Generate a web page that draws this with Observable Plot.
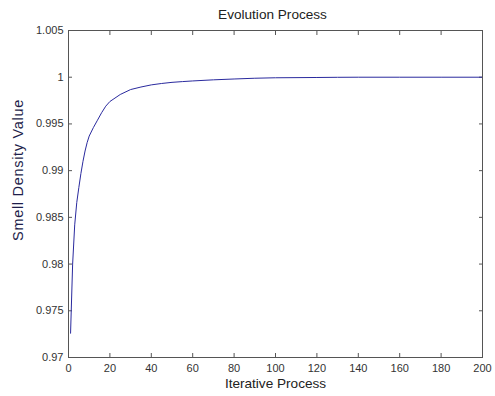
<!DOCTYPE html>
<html>
<head>
<meta charset="utf-8">
<script src="https://cdn.jsdelivr.net/npm/d3@7"></script>
<script src="https://cdn.jsdelivr.net/npm/@observablehq/plot@0.6"></script>
<style>
  html, body { margin: 0; padding: 0; background: #fff; }
  svg { display: block; }
</style>
</head>
<body>
<div id="chart"></div>
<script>
const iterations = [1,2,3,4,5,6,7,8,9,10,12,14,16,18,20,25,30,35,40,45,50,55,60,70,80,90,100,120,130,140,160,180,200];
const smell = [0.9726,0.9800,0.9842,0.9866,0.9882,0.9897,0.9910,0.9921,0.9930,0.9937,0.9946,0.9954,0.9962,0.9969,0.9974,0.99815,0.99868,0.99895,0.99918,0.99933,0.99945,0.99953,0.9996,0.99972,0.99981,0.99989,0.99994,0.99997,0.99999,1.0,1.0,1.0,1.0];
const xTicks = [0,20,40,60,80,100,120,140,160,180,200];
const yTicks = [0.97,0.975,0.98,0.985,0.99,0.995,1,1.005];
const titleText = "Evolution Process";
const xLabel = "Iterative Process";
const yLabel = "Smell Density Value";

const data = iterations.map((x, i) => ({x, y: smell[i]}));
const fmt = d => String(+d.toFixed(3));
const axisColor = "#555";
const font = "Liberation Sans, Arial, sans-serif";

const chart = Plot.plot({
  width: 495,
  height: 396,
  marginLeft: 68,
  marginRight: 13,
  marginTop: 30,
  marginBottom: 39,
  style: {fontFamily: font, fontSize: "11px", color: "#333", background: "#fff"},
  x: {domain: [0, 200]},
  y: {domain: [0.97, 1.005]},
  marks: [
    Plot.axisX({ticks: xTicks, tickSize: -4, tickPadding: 11, tickFormat: fmt, stroke: axisColor, fill: "#333", label: null}),
    Plot.axisX({anchor: "top", ticks: xTicks, tickSize: -4, tickFormat: () => "", stroke: axisColor, label: null}),
    Plot.axisY({ticks: yTicks, tickSize: -4, tickPadding: 9, tickFormat: fmt, stroke: axisColor, fill: "#333", label: null}),
    Plot.axisY({anchor: "right", ticks: yTicks, tickSize: -4, tickFormat: () => "", stroke: axisColor, label: null}),
    Plot.line(data, {x: "x", y: "y", stroke: "#2a2a9e", strokeWidth: 1}),
    Plot.frame({stroke: axisColor, strokeWidth: 1}),
    Plot.text([titleText], {frameAnchor: "top", dx: -3, dy: -16, text: d => d, fontSize: 13.6, fill: "#222", lineAnchor: "middle", textAnchor: "middle"}),
    Plot.text([xLabel], {frameAnchor: "bottom", dy: 26, text: d => d, fontSize: 13.6, fill: "#222", lineAnchor: "middle", textAnchor: "middle"}),
    Plot.text([yLabel], {frameAnchor: "left", dx: -50, dy: -24, text: d => d, fontSize: 14.5, fill: "#1e1e4a", rotate: -90, lineAnchor: "middle", textAnchor: "middle", className: "ylab"})
  ]
});
d3.select(chart).selectAll(".ylab text").style("letter-spacing", "0.7px");
document.getElementById("chart").appendChild(chart);
</script>
</body>
</html>
